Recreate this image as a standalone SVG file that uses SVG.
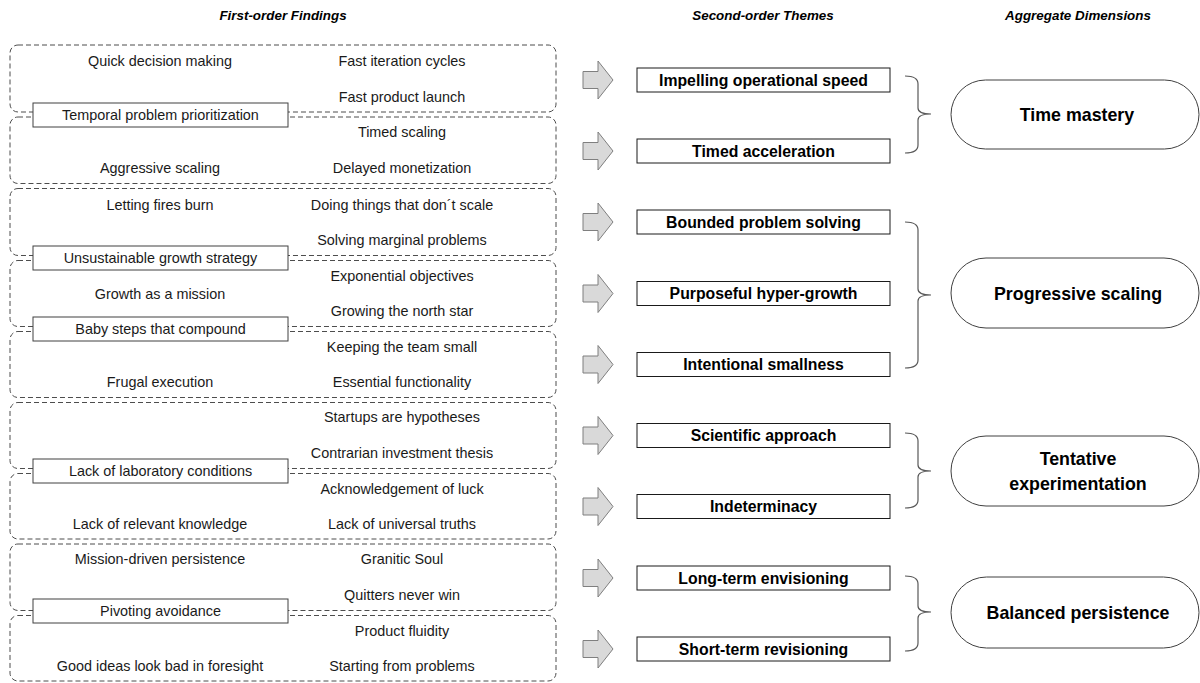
<svg xmlns="http://www.w3.org/2000/svg" width="1200" height="683" viewBox="0 0 1200 683">
<style>
.hdr{font-family:"Liberation Sans",Arial,sans-serif;font-size:13.4px;font-weight:bold;font-style:italic;fill:#000;text-anchor:middle}
.f{font-family:"Liberation Sans",Arial,sans-serif;font-size:14.4px;fill:#1a1a1a;text-anchor:middle}
.t{font-family:"Liberation Sans",Arial,sans-serif;font-size:15.8px;font-weight:bold;fill:#000;text-anchor:middle}
.d{font-family:"Liberation Sans",Arial,sans-serif;font-size:17.8px;font-weight:bold;fill:#000;text-anchor:middle}
.grp{fill:none;stroke:#4d4d4d;stroke-width:1;stroke-dasharray:5 3}
.lab{fill:#fff;stroke:#404040;stroke-width:1}
.box{fill:#fff;stroke:#1a1a1a;stroke-width:1}
.arr{fill:#d9d9d9;stroke:#7f7f7f;stroke-width:1}
.br{fill:none;stroke:#595959;stroke-width:1.2}
.pill{fill:#fff;stroke:#404040;stroke-width:1}
</style>
<g id="headers">
<text class="hdr" x="283" y="20">First-order Findings</text>
<text class="hdr" x="763" y="20">Second-order Themes</text>
<text class="hdr" x="1078" y="20">Aggregate Dimensions</text>
</g>
<g id="finding-groups">
<rect class="grp" x="10" y="45" width="546" height="67" rx="8"/>
<rect class="grp" x="10" y="117" width="546" height="66.5" rx="8"/>
<rect class="grp" x="10" y="188.5" width="546" height="67" rx="8"/>
<rect class="grp" x="10" y="260.5" width="546" height="66" rx="8"/>
<rect class="grp" x="10" y="331.5" width="546" height="66" rx="8"/>
<rect class="grp" x="10" y="402.5" width="546" height="66" rx="8"/>
<rect class="grp" x="10" y="473.5" width="546" height="65.5" rx="8"/>
<rect class="grp" x="10" y="544" width="546" height="66.5" rx="8"/>
<rect class="grp" x="10" y="615.5" width="546" height="65.5" rx="8"/>
</g>
<g id="findings">
<text class="f" x="160" y="66">Quick decision making</text>
<text class="f" x="402" y="66">Fast iteration cycles</text>
<text class="f" x="402" y="102">Fast product launch</text>
<text class="f" x="402" y="137">Timed scaling</text>
<text class="f" x="160" y="173">Aggressive scaling</text>
<text class="f" x="402" y="173">Delayed monetization</text>
<text class="f" x="160" y="210">Letting fires burn</text>
<text class="f" x="402" y="210">Doing things that don´t scale</text>
<text class="f" x="402" y="245">Solving marginal problems</text>
<text class="f" x="402" y="281">Exponential objectives</text>
<text class="f" x="160" y="299">Growth as a mission</text>
<text class="f" x="402" y="316">Growing the north star</text>
<text class="f" x="402" y="352">Keeping the team small</text>
<text class="f" x="160" y="387">Frugal execution</text>
<text class="f" x="402" y="387">Essential functionality</text>
<text class="f" x="402" y="422">Startups are hypotheses</text>
<text class="f" x="402" y="458">Contrarian investment thesis</text>
<text class="f" x="402" y="494">Acknowledgement of luck</text>
<text class="f" x="160" y="529">Lack of relevant knowledge</text>
<text class="f" x="402" y="529">Lack of universal truths</text>
<text class="f" x="160" y="564">Mission-driven persistence</text>
<text class="f" x="402" y="564">Granitic Soul</text>
<text class="f" x="402" y="600">Quitters never win</text>
<text class="f" x="402" y="636">Product fluidity</text>
<text class="f" x="160" y="671">Good ideas look bad in foresight</text>
<text class="f" x="402" y="671">Starting from problems</text>
</g>
<g id="label-temporal"><rect class="lab" x="33" y="103" width="255" height="24"/><text class="f" x="160.5" y="120">Temporal problem prioritization</text></g>
<g id="label-unsustainable"><rect class="lab" x="33" y="246" width="255" height="24"/><text class="f" x="160.5" y="263">Unsustainable growth strategy</text></g>
<g id="label-babysteps"><rect class="lab" x="33" y="317" width="255" height="24"/><text class="f" x="160.5" y="334">Baby steps that compound</text></g>
<g id="label-laboratory"><rect class="lab" x="33" y="459" width="255" height="24"/><text class="f" x="160.5" y="476">Lack of laboratory conditions</text></g>
<g id="label-pivoting"><rect class="lab" x="33" y="599" width="255" height="24"/><text class="f" x="160.5" y="616">Pivoting avoidance</text></g>
<g id="connectors">
<path class="arr" d="M583,71.5H598V61L613,80L598,99V88.5H583Z"/>
<path class="arr" d="M583,142.5H598V132L613,151L598,170V159.5H583Z"/>
<path class="arr" d="M583,213.5H598V203L613,222L598,241V230.5H583Z"/>
<path class="arr" d="M583,285H598V274.5L613,293.5L598,312.5V302H583Z"/>
<path class="arr" d="M583,356H598V345.5L613,364.5L598,383.5V373H583Z"/>
<path class="arr" d="M583,427H598V416.5L613,435.5L598,454.5V444H583Z"/>
<path class="arr" d="M583,498H598V487.5L613,506.5L598,525.5V515H583Z"/>
<path class="arr" d="M583,569.5H598V559L613,578L598,597V586.5H583Z"/>
<path class="arr" d="M583,640.5H598V630L613,649L598,668V657.5H583Z"/>
<path class="br" d="M905,76Q918,76 918,84V108Q918,114 931,114Q918,114 918,120V145Q918,153 905,153"/>
<path class="br" d="M905,222Q918,222 918,230V289Q918,295 931,295Q918,295 918,301V360Q918,368 905,368"/>
<path class="br" d="M905,433Q918,433 918,441V465Q918,471 931,471Q918,471 918,477V500Q918,508 905,508"/>
<path class="br" d="M905,576Q918,576 918,584V606Q918,612 931,612Q918,612 918,618V643Q918,651 905,651"/>
</g>
<g id="theme-1"><rect class="box" x="637" y="68" width="253" height="24"/><text class="t" x="763.5" y="85.5">Impelling operational speed</text></g>
<g id="theme-2"><rect class="box" x="637" y="139" width="253" height="24"/><text class="t" x="763.5" y="156.5">Timed acceleration</text></g>
<g id="theme-3"><rect class="box" x="637" y="210" width="253" height="24"/><text class="t" x="763.5" y="227.5">Bounded problem solving</text></g>
<g id="theme-4"><rect class="box" x="637" y="281.5" width="253" height="24"/><text class="t" x="763.5" y="299">Purposeful hyper-growth</text></g>
<g id="theme-5"><rect class="box" x="637" y="352.5" width="253" height="24"/><text class="t" x="763.5" y="370">Intentional smallness</text></g>
<g id="theme-6"><rect class="box" x="637" y="423.5" width="253" height="24"/><text class="t" x="763.5" y="441">Scientific approach</text></g>
<g id="theme-7"><rect class="box" x="637" y="494.5" width="253" height="24"/><text class="t" x="763.5" y="512">Indeterminacy</text></g>
<g id="theme-8"><rect class="box" x="637" y="566" width="253" height="24"/><text class="t" x="763.5" y="583.5">Long-term envisioning</text></g>
<g id="theme-9"><rect class="box" x="637" y="637" width="253" height="24"/><text class="t" x="763.5" y="654.5">Short-term revisioning</text></g>
<g id="dim-time"><rect class="pill" x="951" y="80" width="248" height="69" rx="34.5"/><text class="d" x="1077" y="120.5">Time mastery</text></g>
<g id="dim-progressive"><rect class="pill" x="951" y="258" width="248" height="70" rx="35"/><text class="d" x="1078" y="299.5">Progressive scaling</text></g>
<g id="dim-tentative"><rect class="pill" x="951" y="436" width="248" height="70" rx="35"/><text class="d" x="1078" y="465">Tentative</text><text class="d" x="1078" y="490">experimentation</text></g>
<g id="dim-balanced"><rect class="pill" x="951" y="577" width="248" height="71" rx="35.5"/><text class="d" x="1078" y="618.5">Balanced persistence</text></g>
</svg>
